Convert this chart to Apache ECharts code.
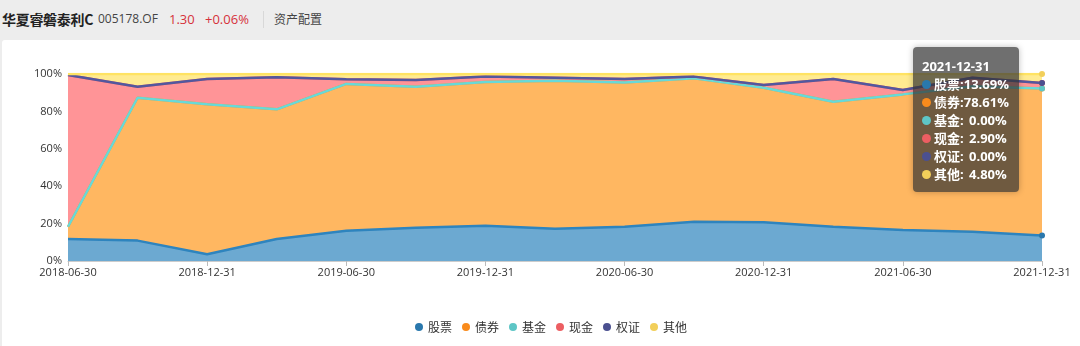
<!DOCTYPE html>
<html>
<head>
<meta charset="utf-8">
<script src="https://cdn.jsdelivr.net/npm/echarts@6/dist/echarts.min.js"></script>
<style>
  html, body { margin:0; padding:0; width:1080px; height:346px; background:#ededed; overflow:hidden;
    font-family: "Open Sans", "Noto Sans CJK SC", sans-serif; }
  #header { position:absolute; left:0; top:0; width:1080px; height:40px; }
  #header span { position:absolute; top:0; line-height:38px; white-space:nowrap; }
  #chart { position:absolute; left:2px; top:40px; width:1078px; height:306px; background:#fff; border-radius:3px 0 0 0; }
</style>
</head>
<body>
<div id="header">
  <span style="left:2px;font-size:14px;font-weight:bold;color:#222;letter-spacing:-0.3px;font-family:'Noto Sans CJK SC',sans-serif;">华夏睿磐泰利C</span>
  <span style="left:98px;font-size:12px;color:#444;">005178.OF</span>
  <span style="left:169px;font-size:13px;color:#d6313a;">1.30</span>
  <span style="left:205px;font-size:13px;color:#d6313a;">+0.06%</span>
  <span style="left:263px;top:11px;width:1px;height:17px;background:#d8d8d8;"></span>
  <span style="left:274px;font-size:12px;color:#444;font-family:'Noto Sans CJK SC',sans-serif;">资产配置</span>
</div>
<div id="chart"></div>
<script>
const dates = ['2018-06-30','2018-09-30','2018-12-31','2019-03-31','2019-06-30','2019-09-30','2019-12-31',
  '2020-03-31','2020-06-30','2020-09-30','2020-12-31','2021-03-31','2021-06-30','2021-09-30','2021-12-31'];
const stocks   = [11.8, 10.9, 3.6, 11.8, 16.2, 17.8, 18.9, 17.3, 18.3, 21.0, 20.7, 18.3, 16.6, 15.7, 13.69];
const bonds    = [6.5, 76.4, 80.2, 69.3, 78.5, 75.4, 76.8, 79.1, 77.1, 76.7, 72.0, 66.9, 72.5, 77.8, 78.61];
const funds    = [0, 0, 0, 0, 0, 0, 0, 0, 0, 0, 0, 0, 0, 0, 0];
const cash     = [81.2, 5.9, 13.5, 17.2, 2.5, 3.6, 2.9, 1.6, 1.9, 0.9, 1.4, 12.1, 2.3, 4.5, 2.90];
const warrants = [0, 0, 0, 0, 0, 0, 0, 0, 0, 0, 0, 0, 0, 0, 0];
const others   = [0.5, 6.8, 2.7, 1.7, 2.8, 3.2, 1.4, 2.0, 2.7, 1.4, 5.9, 2.7, 8.6, 2.0, 4.80];
const seriesNames = ['股票','债券','基金','现金','权证','其他'];
const seriesData = [stocks, bonds, funds, cash, warrants, others];
const colors = ['#2a78ad','#f98b1c','#5ec6c6','#ec5e62','#4b5090','#f2cf5a'];

const chart = echarts.init(document.getElementById('chart'), null, {renderer:'canvas'});
const fontFam = '"Open Sans", "Noto Sans CJK SC", sans-serif';
const option = {
  animation: false,
  color: colors,
  textStyle: { fontFamily: fontFam },
  grid: { left: 66, right: 38, top: 34, bottom: 85 },
  legend: {
    left: 408, top: 276,
    icon: 'circle', itemWidth: 8, itemHeight: 8, itemGap: 10,
    textStyle: { fontSize: 12, color: '#333', fontFamily: '"Noto Sans CJK SC", sans-serif' },
    data: seriesNames
  },
  tooltip: {
    trigger: 'axis',
    alwaysShowContent: true,
    transitionDuration: 0,
    position: [911, 7],
    backgroundColor: 'rgba(50,50,50,0.7)',
    borderWidth: 0,
    borderRadius: 4,
    padding: [10, 10, 9, 9],
    extraCssText: 'box-shadow:0 0 6px rgba(0,0,0,0.25);',
    axisPointer: { type: 'line', lineStyle: { opacity: 0 } },
    formatter: function (params) {
      let h = '<div style="font-family:' + "'Open Sans','Noto Sans CJK SC',sans-serif" + ';color:#fff;font-weight:bold;font-size:13px;line-height:18px;">';
      h += '<div>' + params[0].axisValue + '</div>';
      params.forEach(function (p) {
        h += '<div style="white-space:nowrap;">' +
          '<span style="display:inline-block;width:9px;height:9px;border-radius:5px;background:' + p.color + ';margin-right:3px;vertical-align:0px;"></span>' +
          '<span>' + p.seriesName + '</span>:' +
          '<span style="display:inline-block;min-width:43px;text-align:right;">' + Number(p.value).toFixed(2) + '%</span></div>';
      });
      return h + '</div>';
    }
  },
  xAxis: {
    type: 'category',
    boundaryGap: false,
    data: dates,
    axisLine: { lineStyle: { color: '#ccc' } },
    axisTick: { interval: 1, lineStyle: { color: '#bbb' } },
    axisLabel: { interval: 1, fontSize: 11, color: '#333', margin: 6, fontFamily: fontFam }
  },
  yAxis: {
    type: 'value',
    min: 0, max: 100, interval: 20,
    axisLine: { show: false },
    axisTick: { show: false },
    splitLine: { show: false },
    axisLabel: { formatter: '{value}%', fontSize: 11, color: '#333', margin: 6, fontFamily: fontFam }
  },
  series: seriesNames.map(function (name, i) {
    return {
      name: name,
      type: 'line',
      stack: 'total',
      data: seriesData[i],
      showSymbol: false,
      symbol: 'circle',
      symbolSize: 6,
      lineStyle: { width: 2.5 },
      areaStyle: { opacity: 0.7 },
      emphasis: { disabled: false, scale: 1, focus: 'none', areaStyle: { opacity: 0.7 }, lineStyle: { width: 2.5 } }
    };
  })
};
chart.setOption(option);
chart.dispatchAction({ type: 'showTip', seriesIndex: 0, dataIndex: 14 });
</script>
</body>
</html>
